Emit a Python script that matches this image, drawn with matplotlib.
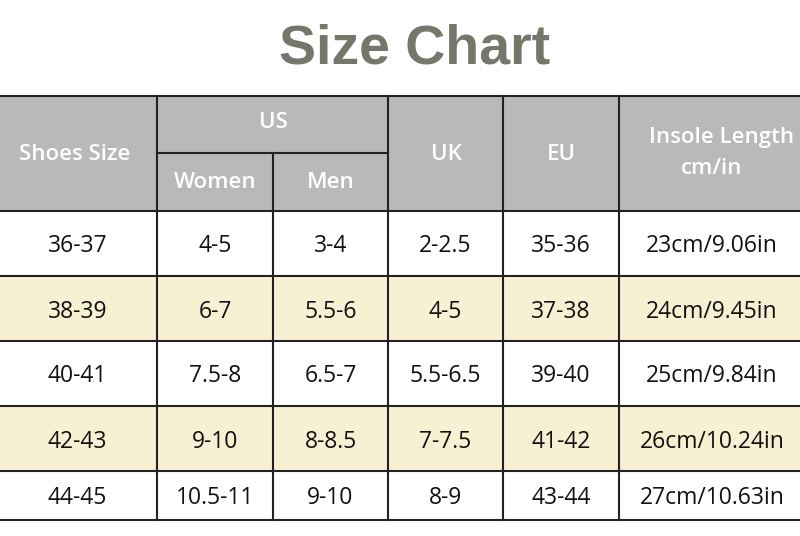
import matplotlib
matplotlib.use("Agg")
import matplotlib.pyplot as plt
from matplotlib.patches import Rectangle

title = "Size Chart"
shoes = ["36-37", "38-39", "40-41", "42-43", "44-45"]
us_women = ["4-5", "6-7", "7.5-8", "9-10", "10.5-11"]
us_men = ["3-4", "5.5-6", "6.5-7", "8-8.5", "9-10"]
uk = ["2-2.5", "4-5", "5.5-6.5", "7-7.5", "8-9"]
eu = ["35-36", "37-38", "39-40", "41-42", "43-44"]
insole = ["23cm/9.06in", "24cm/9.45in", "25cm/9.84in", "26cm/10.24in", "27cm/10.63in"]

plt.rcParams['font.family'] = ['Open Sans', 'DejaVu Sans']
fig = plt.figure(figsize=(8, 5.36), dpi=100)
ax = fig.add_axes([0, 0, 1, 1])
ax.set_xlim(0, 800); ax.set_ylim(536, 0); ax.axis('off')

xs = [-2, 157, 273, 388, 503, 619, 830]
ys = [96, 153, 211, 276, 341, 406, 471, 520]
gray = "#b9b9b9"; yellow = "#f8f0d2"; lc = "#222222"

ax.text(415, 50, title, ha='center', va='center', fontsize=40, fontweight='bold',
        color='#77766b', family='Liberation Sans')
ax.add_patch(Rectangle((xs[0], ys[0]), xs[-1]-xs[0], ys[2]-ys[0], color=gray, lw=0))
cols = [shoes, us_women, us_men, uk, eu, insole]
for r in range(5):
    y0, y1 = ys[r+2], ys[r+3]
    ax.add_patch(Rectangle((xs[0], y0), xs[-1]-xs[0], y1-y0, color=yellow if r % 2 else "white", lw=0))
    for c in range(6):
        cx = (xs[c]+xs[c+1])/2 if c < 5 else 712
        ax.text(cx, (y0+y1)/2 + 3, cols[c][r], ha='center', va='center', fontsize=16.5, color='#111111')

hk = dict(ha='center', va='center', fontsize=16, color='white', fontweight='semibold')
ax.text(75, 154, "Shoes Size", **hk)
ax.text(273, 123, "US", **hk)
ax.text(215, 183, "Women", **hk)
ax.text(331, 183, "Men", **hk)
ax.text(446, 154, "UK", **hk)
ax.text(561, 154, "EU", **hk)
ax.text(722, 137, "Insole Length", **hk)
ax.text(712, 168, "cm/in", **hk)

for y in ys:
    if y == 153:
        ax.plot([157, 388], [y, y], color=lc, lw=1.5)
    else:
        ax.plot([xs[0], 830], [y, y], color=lc, lw=1.5)
for x in xs[1:-1]:
    top = 153 if x == 273 else 96
    ax.plot([x, x], [top, 520], color=lc, lw=1.5)

fig.savefig("out.png", dpi=100)
